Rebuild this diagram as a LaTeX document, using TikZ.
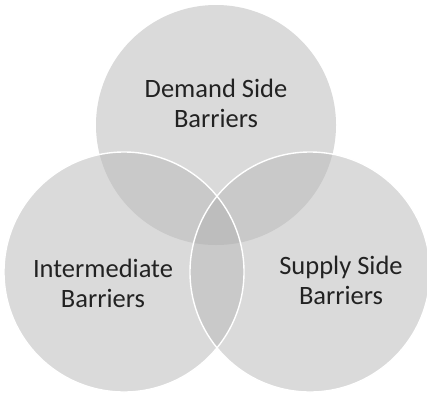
\documentclass[tikz,border=0pt]{standalone}
\usepackage{fontspec}
\setmainfont{Carlito}
\begin{document}
\begin{tikzpicture}[x=1pt,y=-1pt,
  disk/.style={circle,minimum size=240pt,inner sep=0pt,fill=oneset},
  rim/.style={draw=white,line width=1.4pt},
  caption/.style={align=center,anchor=base,text=txt,
    font=\fontsize{26.5}{30}\selectfont}]
\definecolor{oneset}{HTML}{DADADA}
\definecolor{twosets}{HTML}{C9C9C9}
\definecolor{threesets}{HTML}{BDBDBD}
\definecolor{txt}{HTML}{222222}
\def\R{120}
\useasboundingbox (0,0) rectangle (427,394);
\fill[white] (0,0) rectangle (427,394);
% the three sets
\node[disk] (demand) at (216,125) {};
\node[disk] (inter)  at (124,272) {};
\node[disk] (supply) at (310,272) {};
% pairwise overlaps
\begin{scope}
  \clip (demand.center) circle[radius=\R];
  \fill[twosets] (inter.center) circle[radius=\R];
  \fill[twosets] (supply.center) circle[radius=\R];
\end{scope}
\begin{scope}
  \clip (inter.center) circle[radius=\R];
  \fill[twosets] (supply.center) circle[radius=\R];
\end{scope}
% common part of all three
\begin{scope}
  \clip (demand.center) circle[radius=\R];
  \clip (inter.center) circle[radius=\R];
  \fill[threesets] (supply.center) circle[radius=\R];
\end{scope}
% white outlines of the two lower sets
\draw[rim] (inter.center) circle[radius=\R];
\draw[rim] (supply.center) circle[radius=\R];
% labels (anchored on the baseline of the second line)
\node[caption] (tdemand) at (216,127) {Demand Side\\Barriers};
\node[caption] (tinter)  at (103,307) {Intermediate\\Barriers};
\node[caption] (tsupply) at (341,304) {Supply Side\\Barriers};
\end{tikzpicture}
\end{document}
